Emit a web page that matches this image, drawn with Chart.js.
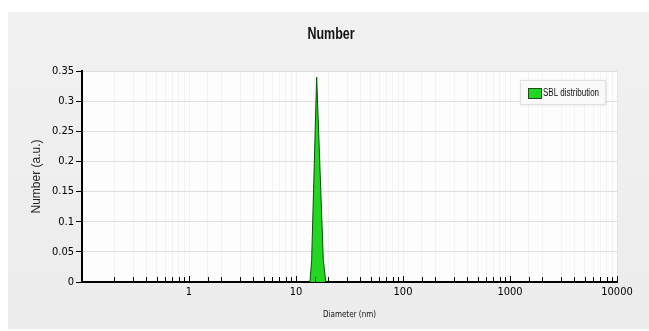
<!DOCTYPE html>
<html>
<head>
<meta charset="utf-8">
<script src="https://cdn.jsdelivr.net/npm/chart.js@4.4.0/dist/chart.umd.min.js"></script>
<style>
  html, body { margin: 0; padding: 0; background: #fff; }
  #wrap { width: 649px; height: 331px; }
</style>
</head>
<body>
<div id="wrap"><canvas id="numberChart" width="649" height="331"></canvas></div>
<script>
// values
const diameters = [13.5, 14.0, 15.6, 18.0, 19.0];
const numberValues = [0, 0.036, 0.34, 0.036, 0];
const seriesLabel = 'SBL distribution';
const chartTitle = 'Number';
const yTickLabels = ['0', '0.05', '0.1', '0.15', '0.2', '0.25', '0.3', '0.35'];
const xTickLabels = ['1', '10', '100', '1000', '10000'];

const narrow = "'Liberation Sans Narrow', 'DejaVu Sans Condensed', 'Liberation Sans', sans-serif";

const backdrop = {
    id: 'backdrop',
    beforeDraw(chart) {
        const ctx = chart.ctx;
        const area = chart.chartArea;
        ctx.save();
        ctx.fillStyle = '#ffffff';
        ctx.fillRect(0, 0, chart.width, chart.height);
        const g = ctx.createLinearGradient(0, 12, 0, 329);
        g.addColorStop(0, '#f1f1f1');
        g.addColorStop(1, '#ececec');
        ctx.fillStyle = g;
        ctx.fillRect(8, 12, chart.width - 8, 317);
        ctx.fillStyle = '#fdfdfd';
        ctx.fillRect(area.left, area.top, area.right - area.left, area.bottom - area.top);
        ctx.restore();
    }
};

// title, small tick marks pointing up from the x axis, and the boxed legend
const extras = {
    id: 'extras',
    afterDraw(chart) {
        const ctx = chart.ctx;
        const xs = chart.scales.x;
        const bottom = chart.chartArea.bottom;
        ctx.save();

        // title, squeezed to look like a narrow face
        ctx.save();
        ctx.translate(331, 35);
        ctx.scale(0.78, 1);
        ctx.fillStyle = '#111';
        ctx.font = "bold 16px 'Liberation Sans', Arial, sans-serif";
        ctx.textAlign = 'center';
        ctx.textBaseline = 'middle';
        ctx.fillText(chartTitle, 0, 0);
        ctx.restore();

        ctx.strokeStyle = '#000';
        ctx.lineWidth = 1;
        xs.ticks.forEach(t => {
            const px = Math.round(xs.getPixelForValue(t.value)) + 0.5;
            ctx.beginPath();
            ctx.moveTo(px, bottom);
            ctx.lineTo(px, bottom - (isDecade(t.value) ? 6 : 5));
            ctx.stroke();
        });

        // legend
        const ds = chart.data.datasets[0];
        const bx = 520, by = 80, bw = 85, bh = 24;
        ctx.shadowColor = 'rgba(0,0,0,0.12)';
        ctx.shadowBlur = 3;
        ctx.shadowOffsetX = 1;
        ctx.shadowOffsetY = 1;
        ctx.fillStyle = '#f9f9f9';
        ctx.fillRect(bx, by, bw, bh);
        ctx.shadowColor = 'transparent';
        ctx.strokeStyle = '#e0e0e0';
        ctx.strokeRect(bx + 0.5, by + 0.5, bw, bh);
        ctx.fillStyle = ds.backgroundColor;
        ctx.fillRect(528, 88, 13, 10);
        ctx.strokeStyle = '#1a4d1a';
        ctx.strokeRect(528.5, 88.5, 13, 10);
        ctx.translate(543, 93.5);
        ctx.scale(0.8, 1);
        ctx.fillStyle = '#111';
        ctx.font = "10px 'Liberation Sans', Arial, sans-serif";
        ctx.textBaseline = 'middle';
        ctx.textAlign = 'left';
        ctx.fillText(ds.label, 0, 0);
        ctx.restore();
    }
};

function isDecade(v) {
    const l = Math.log10(v);
    return Math.abs(l - Math.round(l)) < 1e-6;
}

const ctx = document.getElementById('numberChart').getContext('2d');
new Chart(ctx, {
    type: 'line',
    data: {
        datasets: [{
            label: seriesLabel,
            data: diameters.map((d, i) => ({ x: d, y: numberValues[i] })),
            borderColor: '#0b4f0b',
            borderWidth: 1,
            backgroundColor: '#22d622',
            fill: 'origin',
            pointRadius: 0,
            tension: 0
        }]
    },
    options: {
        responsive: false,
        animation: false,
        layout: { padding: { left: 8, right: 32, top: 71, bottom: 3 } },
        plugins: {
            legend: { display: false },
            tooltip: { enabled: false },
            title: { display: false }
        },
        scales: {
            x: {
                type: 'logarithmic',
                min: 0.1,
                max: 10000,
                afterFit(scale) { scale.height = 46; },
                border: { display: true, color: '#000', width: 2 },
                grid: { color: 'rgba(0,0,0,0.04)', drawTicks: false },
                ticks: {
                    autoSkip: false,
                    maxRotation: 0,
                    padding: 4,
                    color: '#000',
                    font: { family: narrow, size: 11 },
                    callback(value) {
                        if (!isDecade(value)) return '';
                        const i = Math.round(Math.log10(value));
                        return i >= 0 ? xTickLabels[i] : '';
                    }
                },
                title: {
                    display: true,
                    text: 'Diameter (nm)',
                    color: '#111',
                    font: { family: narrow, size: 8, lineHeight: 1.2 },
                    padding: { top: 2, bottom: 8 }
                }
            },
            y: {
                min: 0,
                max: 0.35,
                afterFit(scale) { scale.width = 74; },
                border: { display: true, color: '#000', width: 2 },
                grid: { color: '#dedede', tickColor: '#000', tickLength: 6 },
                ticks: {
                    stepSize: 0.05,
                    padding: 2,
                    color: '#000',
                    font: { family: narrow, size: 11 },
                    callback(value, index) { return yTickLabels[index]; }
                },
                title: {
                    display: true,
                    text: 'Number (a.u.)',
                    color: '#222',
                    font: { family: "'Liberation Sans', Arial, sans-serif", size: 12, lineHeight: 1.2 },
                    padding: { top: 21, bottom: 0 }
                }
            }
        }
    },
    plugins: [backdrop, extras]
});
</script>
</body>
</html>
